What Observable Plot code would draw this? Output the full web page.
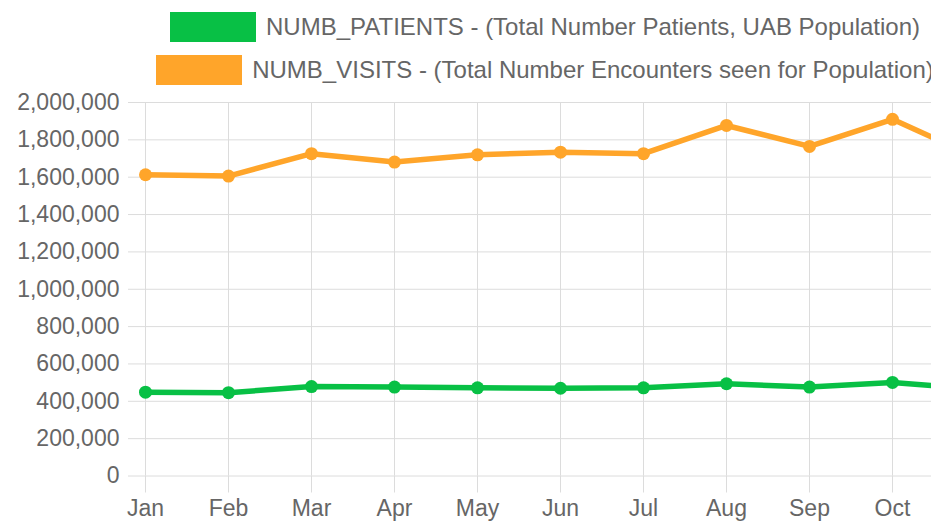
<!DOCTYPE html>
<html>
<head>
<meta charset="utf-8">
<script src="https://cdn.jsdelivr.net/npm/d3@7"></script>
<script src="https://cdn.jsdelivr.net/npm/@observablehq/plot@0.6"></script>
<style>
  html, body { margin: 0; padding: 0; background: #fff; overflow: hidden; }
  #wrap { position: relative; width: 1090px; font-family: "Liberation Sans", Arial, sans-serif; color: #666; }
  #legend { position: relative; height: 80px; width: 1090px; }
  .row { position: absolute; left: 0; width: 1090px; height: 30px; display: flex; justify-content: center; align-items: center; font-size: 24px; white-space: nowrap; }
  .box { width: 86px; height: 30px; margin-right: 10px; flex: none; }
  svg { display: block; }
</style>
</head>
<body>
<div id="wrap">
  <div id="legend"></div>
  <div id="chart"></div>
</div>
<script>
const months = ["Jan","Feb","Mar","Apr","May","Jun","Jul","Aug","Sep","Oct","Nov"];
const patients = [449000, 446000, 479000, 476000, 472000, 470000, 472000, 494000, 476000, 501000, 467000];
const visits = [1613000, 1606000, 1726000, 1681000, 1720000, 1734000, 1726000, 1877000, 1765000, 1910000, 1708000];
const seriesNames = [
  "NUMB_PATIENTS - (Total Number Patients, UAB Population)",
  "NUMB_VISITS - (Total Number Encounters seen for Population)"
];
const seriesColors = ["#08c045", "#ffa52a"];
const yTicks = [0, 200000, 400000, 600000, 800000, 1000000, 1200000, 1400000, 1600000, 1800000, 2000000];

// legend
const legend = document.getElementById("legend");
const rowTops = [12, 55];
seriesNames.forEach((name, i) => {
  const row = document.createElement("div");
  row.className = "row";
  row.style.top = rowTops[i] + "px";
  const box = document.createElement("div");
  box.className = "box";
  box.style.background = seriesColors[i];
  const label = document.createElement("span");
  label.textContent = name;
  row.appendChild(box);
  row.appendChild(label);
  legend.appendChild(row);
});

const data = [];
months.forEach((m, i) => {
  data.push({month: m, value: patients[i], series: seriesNames[0]});
  data.push({month: m, value: visits[i], series: seriesNames[1]});
});

const grid = "#dcdcdc";
const step = 83.2;
const x0 = 143.5;

const chart = Plot.plot({
  width: 1090,
  height: 443,
  marginLeft: 128,
  marginRight: 31,
  marginTop: 22,
  marginBottom: 47.5,
  style: {fontFamily: "'Liberation Sans', Arial, sans-serif", fontSize: "23px", color: "#666", background: "transparent", overflow: "visible"},
  x: {type: "point", domain: months, range: [x0, x0 + (months.length - 1) * step], padding: 0},
  y: {domain: [0, 2000000]},
  color: {domain: seriesNames, range: seriesColors},
  marks: [
    Plot.gridY(yTicks, {stroke: grid, strokeOpacity: 1}),
    Plot.gridX(months, {stroke: grid, strokeOpacity: 1}),
    Plot.axisY(yTicks, {tickSize: 0, tickPadding: 9, tickFormat: d3.format(","), label: null, fill: "#666"}),
    Plot.axisX(months, {tickSize: 17, tickPadding: 7, stroke: grid, strokeOpacity: 1, label: null, fill: "#666"}),
    Plot.line(data, {x: "month", y: "value", z: "series", stroke: "series", strokeWidth: 5.5}),
    Plot.dot(data, {x: "month", y: "value", fill: "series", r: 6.5})
  ]
});
document.getElementById("chart").appendChild(chart);
</script>
</body>
</html>
